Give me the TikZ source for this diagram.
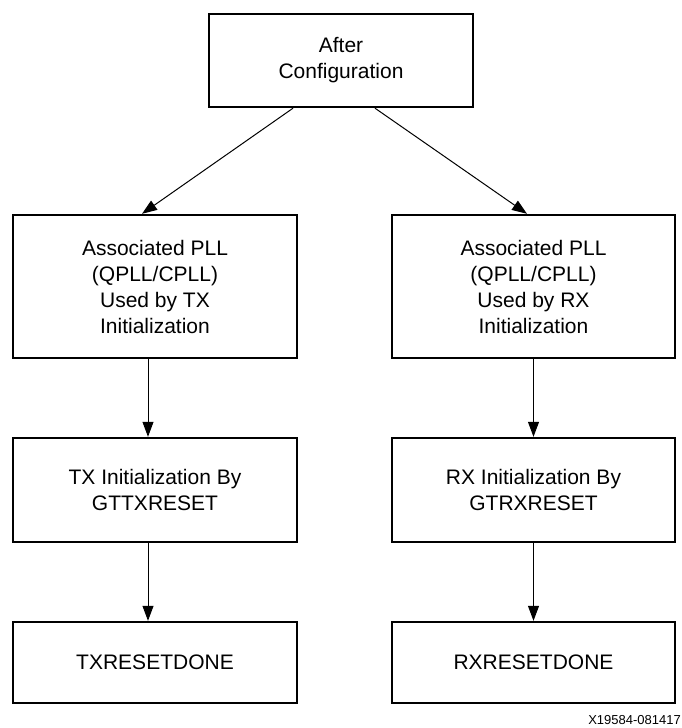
\documentclass[tikz,border=0pt]{standalone}
\usepackage{fontspec}
\setmainfont{Liberation Sans}
\usetikzlibrary{arrows.meta}
\begin{document}
\begin{tikzpicture}[x=1pt,y=-1pt,
  box/.style={draw=black,line width=2.4pt,rectangle,inner sep=0pt,align=center,
    font=\fontsize{21}{26}\selectfont},
  conn/.style={draw=black,line width=1pt,-{Triangle[length=15pt,width=11pt]}}]
\useasboundingbox (0,0) rectangle (681,728);
\node[box,minimum width=264pt,minimum height=93pt] (top) at (341,60.5) {After\\Configuration};
\node[box,minimum width=284pt,minimum height=143pt] (lpll) at (155,286.5) {Associated PLL\\(QPLL/CPLL)\\Used by TX\\Initialization};
\node[box,minimum width=283pt,minimum height=143pt] (rpll) at (533.5,286.5) {Associated PLL\\(QPLL/CPLL)\\Used by RX\\Initialization};
\node[box,minimum width=284pt,minimum height=104pt] (ltx) at (155,490) {TX Initialization By\\GTTXRESET};
\node[box,minimum width=283pt,minimum height=104pt] (rrx) at (533.5,490) {RX Initialization By\\GTRXRESET};
\node[box,minimum width=284pt,minimum height=81pt] (ldone) at (155,662.5) {TXRESETDONE};
\node[box,minimum width=283pt,minimum height=81pt] (rdone) at (533.5,662.5) {RXRESETDONE};
\node[anchor=base east,inner sep=0pt,font=\fontsize{13}{15}\selectfont] (lbl) at (681,724) {X19584-081417};
\draw[conn] ([xshift=-48pt]top.south) -- ([xshift=-13pt]lpll.north);
\draw[conn] ([xshift=34pt]top.south) -- ([xshift=-6.5pt]rpll.north);
\draw[conn] ([xshift=-7pt]lpll.south) -- ([xshift=-7pt]ltx.north);
\draw[conn] (rpll.south) -- (rrx.north);
\draw[conn] ([xshift=-7pt]ltx.south) -- ([xshift=-7pt]ldone.north);
\draw[conn] (rrx.south) -- (rdone.north);
\end{tikzpicture}
\end{document}
